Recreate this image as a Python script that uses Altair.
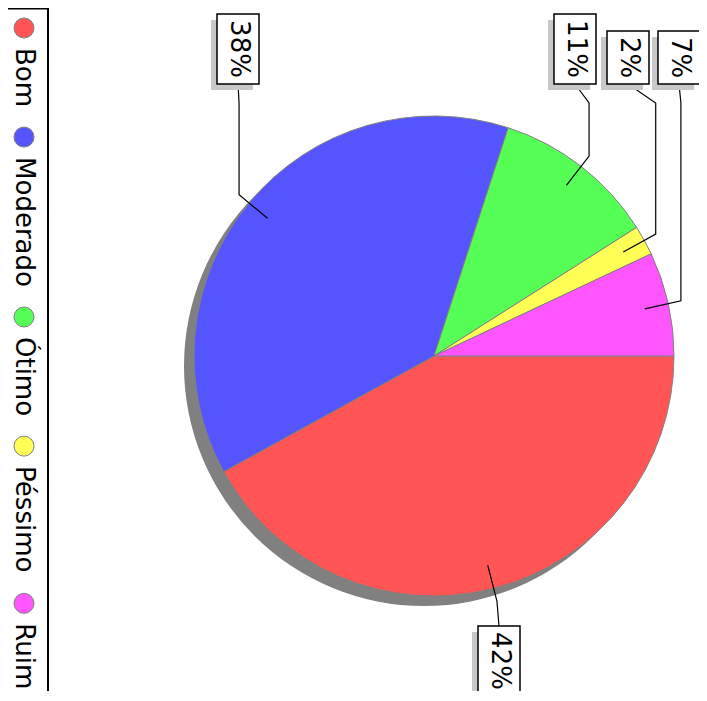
import math
import altair as alt
import pandas as pd

# ---------------- data ----------------
categories = ["Bom", "Moderado", "Ótimo", "Péssimo", "Ruim"]
percentages = [42, 38, 11, 2, 7]
labels = ["42%", "38%", "11%", "2%", "7%"]
colors = ["#FF5555", "#5555FF", "#55FF55", "#FFFF55", "#FF55FF"]

# ---------------- layout (screen pixels) ----------------
W, H, M = 699, 691, 8          # visible screen extent (page margin M)
CX, CY, R = 434, 356, 240
SHADOW_D = 10
START = math.pi / 2
label_box_x = [499, 238, 575, 628, 679]
label_side = ["bottom", "top", "top", "top", "top"]
TOP_BOX_BOTTOM, BOTTOM_BOX_TOP = 84, 626
TOP_JOIN, BOX_W = 103, 42
LEGEND_X = 24
FONT = "DejaVu Sans"

xs = alt.Scale(domain=[M, W], range=[0, W - M], nice=False, zero=False)
ys = alt.Scale(domain=[M, H], range=[0, H - M], nice=False, zero=False)


def X(f, **kw):
    return alt.X(f, type="quantitative", scale=xs, axis=None, **kw)


def Y(f, **kw):
    return alt.Y(f, type="quantitative", scale=ys, axis=None, **kw)


pie_df = pd.DataFrame({"cat": categories, "value": percentages,
                       "idx": list(range(len(categories)))})

# shadow
shadow = alt.Chart(pd.DataFrame({"a": [1]})).mark_arc(
    color="#808080", theta=0, theta2=2 * math.pi, outerRadius=R
).encode(x=alt.X(datum=CX - SHADOW_D, type="quantitative", scale=xs, axis=None),
         y=alt.Y(datum=CY + SHADOW_D, type="quantitative", scale=ys, axis=None))

pie = alt.Chart(pie_df).mark_arc(outerRadius=R, stroke="#808080", strokeWidth=1).encode(
    theta=alt.Theta("value:Q", stack=True,
                    scale=alt.Scale(range=[START, START + 2 * math.pi])),
    order=alt.Order("idx:Q"),
    color=alt.Color("cat:N", scale=alt.Scale(domain=categories, range=colors), legend=None),
    x=alt.X(datum=CX, type="quantitative", scale=xs, axis=None),
    y=alt.Y(datum=CY, type="quantitative", scale=ys, axis=None),
)

# ---------------- labels ----------------
total = sum(percentages)
line_rows, box_rows = [], []
acc = 0.0
for i, (lab, v) in enumerate(zip(labels, percentages)):
    mid = START + 2 * math.pi * (acc + v / 2) / total
    acc += v
    ax, ay = CX + 0.9 * R * math.sin(mid), CY - 0.9 * R * math.cos(mid)
    ex, ey = CX + (R + 13) * math.sin(mid), CY - (R + 13) * math.cos(mid)
    bx = label_box_x[i]
    L = 17 * len(lab) + 19
    if label_side[i] == "top":
        y2 = TOP_BOX_BOTTOM
        y1 = y2 - L
        jy, attach = TOP_JOIN, y2
    else:
        y1 = BOTTOM_BOX_TOP
        y2 = y1 + L
        jy, attach = ey, y1
    pts = [(ax, ay), (ex, ey), (ex, jy), (bx, attach)]
    for s, (px, py) in enumerate(pts):
        line_rows.append({"label": lab, "seq": s, "x": px, "y": py})
    box_rows.append({"label": lab, "x1": bx - BOX_W / 2, "x2": bx + BOX_W / 2,
                     "y1": y1, "y2": y2, "cx": bx + 1, "cy": (y1 + y2) / 2,
                     "sx1": bx - BOX_W / 2 - 6, "sx2": bx + BOX_W / 2 - 6,
                     "sy1": y1 + 6, "sy2": y2 + 6})

lines_df = pd.DataFrame(line_rows)
box_df = pd.DataFrame(box_rows)

connectors = alt.Chart(lines_df).mark_line(color="black", strokeWidth=1.2).encode(
    x=X("x"), y=Y("y"), detail="label:N", order="seq:Q")

box_shadow = alt.Chart(box_df).mark_rect(color="#C8C8C8").encode(
    x=X("sx1"), x2="sx2", y=Y("sy1"), y2="sy2")
boxes = alt.Chart(box_df).mark_rect(fill="white", stroke="black", strokeWidth=1.5).encode(
    x=X("x1"), x2="x2", y=Y("y1"), y2="y2")
box_text = alt.Chart(box_df).mark_text(
    angle=90, align="center", baseline="middle", font=FONT, fontSize=26, color="black"
).encode(x=X("cx"), y=Y("cy"), text="label:N")

# ---------------- legend ----------------
DJ = {"B": .686, "o": .612, "m": .974, "M": .863, "d": .635, "e": .615, "r": .411,
      "a": .613, "Ó": .787, "t": .392, "i": .278, "P": .603, "é": .615, "s": .521,
      "R": .695, "u": .634}
LEG_FS = 26
leg_rows = []
yy = 28
for c, col in zip(categories, colors):
    w = sum(DJ.get(ch, .6) for ch in c) * LEG_FS
    leg_rows.append({"cat": c, "col": col, "cy": yy, "ty": yy + 20, "x": LEGEND_X})
    yy = yy + 20 + w + 30
leg_df = pd.DataFrame(leg_rows)

leg_sym = alt.Chart(leg_df).mark_circle(size=400, stroke="#808080", strokeWidth=1, opacity=1).encode(
    x=X("x"), y=Y("cy"),
    color=alt.Color("cat:N", scale=alt.Scale(domain=categories, range=colors), legend=None))
leg_txt = alt.Chart(leg_df).mark_text(
    angle=90, align="left", baseline="middle", font=FONT, fontSize=LEG_FS, color="black"
).encode(x=X("x"), y=Y("ty"), text="cat:N")

border_df = pd.DataFrame({"x": [M, 48], "x2": [48, 48], "y": [8.5, 8], "y2": [8.5, H + 5]})
leg_border = alt.Chart(border_df).mark_rule(color="black", strokeWidth=2).encode(
    x=X("x"), x2="x2", y=Y("y"), y2="y2")

chart = alt.layer(
    shadow, pie, connectors, box_shadow, boxes, box_text, leg_border, leg_sym, leg_txt
).properties(
    width=W - M, height=H - M, padding=0, autosize=alt.AutoSizeParams(type="none")
).configure_view(stroke=None)

chart.save("out.html", embed_options={"renderer": "svg", "actions": False})
